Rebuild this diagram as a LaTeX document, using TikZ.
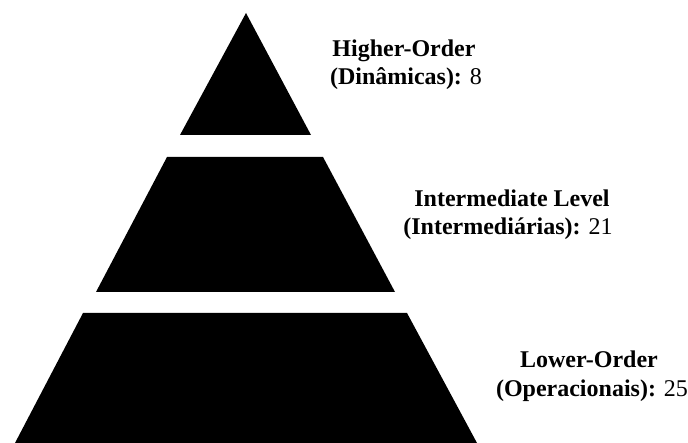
\documentclass[tikz,border=0pt]{standalone}
\usepackage{fontspec}
\setmainfont{Liberation Serif}
\begin{document}
\begin{tikzpicture}[x=1pt,y=-1pt,
  tier/.style={fill=black,draw=none},
  lbl/.style={anchor=base,inner sep=0pt,font=\fontsize{24}{28}\selectfont}]
\useasboundingbox (0,0) rectangle (688,443);
% pyramid tiers
\fill[tier] (246,13) -- (311,135) -- (180,135) -- cycle;
\fill[tier] (167,157) -- (323,157) -- (395,292) -- (96,292) -- cycle;
\fill[tier] (83,313) -- (407,313) -- (477,443) -- (15,443) -- cycle;
% labels
\node[lbl] (hoTitle) at (404,57) {\textbf{Higher-Order}};
\node[lbl] (hoCount) at (406,85) {\textbf{(Dinâmicas):} 8};
\node[lbl] (imTitle) at (512,207) {\textbf{Intermediate Level}};
\node[lbl] (imCount) at (508,235) {\textbf{(Intermediárias):} 21};
\node[lbl] (loTitle) at (589,368) {\textbf{Lower-Order}};
\node[lbl] (loCount) at (592,397) {\textbf{(Operacionais):} 25};
\end{tikzpicture}
\end{document}
